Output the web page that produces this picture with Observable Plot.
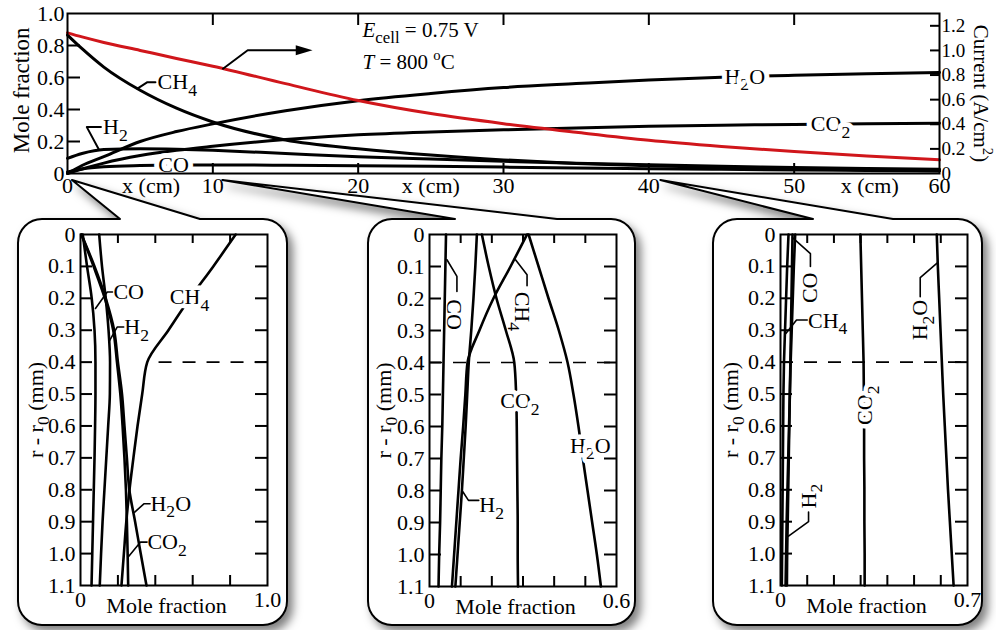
<!DOCTYPE html>
<html><head><meta charset="utf-8">
<script src="https://cdn.jsdelivr.net/npm/d3@7"></script>
<script src="https://cdn.jsdelivr.net/npm/@observablehq/plot@0.6"></script>
<style>
body{margin:0;background:#fff;}
#fig{position:relative;width:996px;height:630px;overflow:hidden;background:#fff;}
#fig svg{position:absolute;}
</style></head><body><div id="fig"></div>
<script>
// ---------------- DATA: main chart (x along channel, cm) ----------------
const xCm     = [0, 1, 2.5, 5, 7.5, 10, 15, 20, 25, 30, 35, 40, 45, 50, 55, 60];
const mainCH4 = [0.865,0.78,0.665,0.52,0.408,0.322,0.21,0.155,0.115,0.085,0.063,0.048,0.037,0.029,0.022,0.017];
const mainH2O = [0,0.05,0.105,0.2,0.262,0.31,0.392,0.455,0.5,0.537,0.562,0.585,0.602,0.614,0.623,0.632];
const mainCO2 = [0,0.028,0.065,0.112,0.145,0.17,0.212,0.242,0.26,0.273,0.285,0.295,0.302,0.307,0.311,0.314];
const mainH2  = [0.095,0.125,0.15,0.155,0.152,0.145,0.125,0.105,0.09,0.076,0.064,0.054,0.045,0.038,0.032,0.027];
const mainCO  = [0.01,0.028,0.042,0.05,0.053,0.053,0.052,0.049,0.045,0.04,0.035,0.03,0.026,0.022,0.019,0.016];
const current = [1.143,1.11,1.065,1.0,0.935,0.872,0.73,0.593,0.487,0.405,0.335,0.27,0.22,0.178,0.142,0.111]; // A/cm2

const xTickVals  = [0, 10, 20, 30, 40, 50, 60];
const xInnerTick = [10, 20, 30, 40, 50];
const mfTicks    = [0, 0.2, 0.4, 0.6, 0.8, 1.0];
const curTicks   = [0, 0.2, 0.4, 0.6, 0.8, 1.0, 1.2];
const CUR_MAX    = 1.3;
const xcmAt      = [5.75, 25, 55.2];

// ---------------- DATA: radial profiles (r - r0, mm) ----------------
const rInset = [0, 0.1, 0.2, 0.3, 0.4, 0.5, 0.6, 0.7, 0.8, 0.9, 1.0, 1.1];
const rTickLabels = [0, 0.1, 0.2, 0.3, 0.4, 0.5, 0.6, 0.7, 0.8, 0.9, 1.0, 1.1];
// x = 0 cm
const in1CH4 = [0.83,0.71,0.585,0.47,0.357,0.33,0.305,0.283,0.262,0.245,0.232,0.219];
const in1H2O = [0.005,0.075,0.135,0.18,0.2,0.222,0.235,0.248,0.261,0.292,0.322,0.353];
const in1CO2 = [0.005,0.07,0.13,0.175,0.195,0.213,0.225,0.235,0.243,0.248,0.252,0.255];
const in1H2  = [0.1,0.115,0.135,0.15,0.158,0.157,0.148,0.138,0.128,0.118,0.11,0.103];
const in1CO  = [0.012,0.035,0.06,0.075,0.08,0.08,0.078,0.075,0.071,0.067,0.063,0.059];
// x = 10 cm
const in2CH4 = [0.313,0.26,0.205,0.16,0.122,0.115,0.108,0.1,0.093,0.086,0.079,0.072];
const in2H2O = [0.318,0.35,0.382,0.415,0.443,0.462,0.478,0.492,0.507,0.522,0.537,0.55];
const in2CO2 = [0.168,0.19,0.215,0.245,0.272,0.278,0.28,0.281,0.282,0.283,0.283,0.284];
const in2H2  = [0.152,0.147,0.141,0.134,0.126,0.121,0.116,0.11,0.104,0.097,0.09,0.083];
const in2CO  = [0.053,0.051,0.049,0.047,0.045,0.043,0.041,0.038,0.036,0.034,0.031,0.029];
// x = 40 cm
const in3CH4 = [0.03,0.025,0.021,0.017,0.013,0.011,0.01,0.009,0.008,0.007,0.006,0.005];
const in3H2O = [0.585,0.589,0.594,0.599,0.604,0.609,0.615,0.621,0.627,0.634,0.641,0.648];
const in3CO2 = [0.299,0.302,0.305,0.308,0.311,0.312,0.313,0.313,0.314,0.314,0.315,0.315];
const in3H2  = [0.045,0.043,0.041,0.039,0.037,0.035,0.033,0.031,0.029,0.027,0.025,0.024];
const in3CO  = [0.055,0.05,0.046,0.042,0.038,0.035,0.032,0.029,0.026,0.023,0.021,0.019];

// ---------------- annotations (data units) ----------------
const topInline = [
  {t: "H_{2}O", x: 46.6, y: 0.606},
  {t: "CO_{2}", x: 52.5, y: 0.309},
  {t: "CO",     x: 7.3,  y: 0.053}
];
const topTags = [
  {t: "CH_{4}", x: 6.2, y: 0.571},
  {t: "H_{2}",  x: 2.45, y: 0.29}
];
const topNotes = [
  {t: "*E*_{cell} = 0.75 V", x: 20.3, y: 0.894},
  {t: "*T* = 800 ^{o}C",     x: 20.3, y: 0.694}
];
const topLeaders = [
  {id: "ch4", pts: [[4.81,0.53],[5.5,0.571],[6.05,0.571]]},
  {id: "h2",  pts: [[2.3,0.29],[1.33,0.29],[2.15,0.152]]},
  {id: "arr", pts: [[10.7,0.655],[12.4,0.77],[16.0,0.77]]}
];
const arrowHead = [{x: 16.2, y: 0.77}];

const inset1 = {
  box: {left: 18, top: 219, width: 269, height: 406}, m: [62, 20, 15, 40],
  xmax: 1.0, xticks: [0.2, 0.4, 0.6, 0.8], dashFrom: 0.42, titleDx: -45,
  series: {CH4: in1CH4, H2O: in1H2O, CO2: in1CO2, H2: in1H2, CO: in1CO},
  labels: [
    {t: "CO", x: 0.176, y: 0.18, a: "start"},
    {t: "CH_{4}", x: 0.583, y: 0.196, a: "middle", halo: true},
    {t: "H_{2}", x: 0.234, y: 0.29, a: "start"},
    {t: "H_{2}O", x: 0.374, y: 0.844, a: "start"},
    {t: "CO_{2}", x: 0.358, y: 0.964, a: "start"}
  ],
  leaders: [
    {id: "co", pts: [[0.08,0.232],[0.143,0.18],[0.171,0.18]]},
    {id: "h2", pts: [[0.151,0.337],[0.196,0.29],[0.231,0.29]]},
    {id: "h2o", pts: [[0.29,0.87],[0.339,0.844],[0.372,0.844]]},
    {id: "co2", pts: [[0.255,1.011],[0.321,0.964],[0.356,0.964]]}
  ],
  tip: {cm: 0, dx: 5, base: [120, 200]}
};
const inset2 = {
  box: {left: 368, top: 219, width: 267, height: 406}, m: [61, 19, 15, 39],
  xmax: 0.6, xticks: [0.1, 0.2, 0.3, 0.4, 0.5], dashFrom: 0, titleDx: -46,
  series: {CH4: in2CH4, H2O: in2H2O, CO2: in2CO2, H2: in2H2, CO: in2CO},
  labels: [
    {t: "CO", x: 0.078, y: 0.25, a: "middle", rot: 90},
    {t: "CH_{4}", x: 0.297, y: 0.24, a: "middle", rot: 90},
    {t: "CO_{2}", x: 0.29, y: 0.52, a: "middle", halo: true},
    {t: "H_{2}O", x: 0.516, y: 0.66, a: "middle", halo: true},
    {t: "H_{2}", x: 0.16, y: 0.846, a: "start"}
  ],
  leaders: [
    {id: "co", pts: [[0.056,0.079],[0.088,0.131],[0.088,0.178]]},
    {id: "ch4", pts: [[0.276,0.079],[0.313,0.126],[0.313,0.16]]},
    {id: "h2", pts: [[0.107,0.804],[0.125,0.831],[0.158,0.831]]}
  ],
  tip: {cm: 10, dx: 10, base: [455, 557]}
};
const inset3 = {
  box: {left: 713, top: 219, width: 269, height: 406}, m: [67, 15, 15, 40],
  xmax: 0.7, xticks: [0.1, 0.2, 0.3, 0.4, 0.5, 0.6], dashFrom: 0, titleDx: -50,
  series: {CH4: in3CH4, H2O: in3H2O, CO2: in3CO2, H2: in3H2, CO: in3CO},
  labels: [
    {t: "CO", x: 0.112, y: 0.167, a: "middle", rot: -90},
    {t: "CH_{4}", x: 0.103, y: 0.27, a: "start"},
    {t: "H_{2}O", x: 0.523, y: 0.268, a: "middle", rot: -90},
    {t: "CO_{2}", x: 0.316, y: 0.535, a: "middle", rot: -90, halo: true},
    {t: "H_{2}", x: 0.105, y: 0.82, a: "middle", rot: -90}
  ],
  leaders: [
    {id: "co", pts: [[0.045,0.01],[0.112,0.06],[0.112,0.1]]},
    {id: "ch4", pts: [[0.02,0.31],[0.06,0.268],[0.1,0.268]]},
    {id: "h2o", pts: [[0.586,0.09],[0.523,0.135],[0.523,0.195]]},
    {id: "h2", pts: [[0.105,0.87],[0.105,0.9],[0.03,0.945]]}
  ],
  tip: {cm: 40, dx: 12, base: [813, 893]}
};

// ---------------- helpers ----------------
const FONT = '"Liberation Serif", "Times New Roman", serif';
const baseStyle = {fontFamily: FONT, fontSize: "22px", background: "transparent", overflow: "visible", color: "black"};
const fmt1 = d => Math.abs(d) < 1e-9 ? "0" : d.toFixed(1);
const flatLeaders = L => L.flatMap(l => l.pts.map(([x, y]) => ({id: l.id, x, y})));
const triRight = {draw(ctx, size) { const r = Math.sqrt(size / Math.PI); ctx.moveTo(r * 1.2, 0); ctx.lineTo(-r * 0.9, -r * 0.62); ctx.lineTo(-r * 0.9, r * 0.62); ctx.closePath(); }};

function richify(root) {
  root.querySelectorAll("text").forEach(el => {
    if (el.children.length) return;
    const s = el.textContent;
    if (!/(_\{|\^\{|\*)/.test(s)) return;
    const fs = parseFloat(getComputedStyle(el).fontSize) || 22;
    el.textContent = "";
    const re = /_\{([^}]*)\}|\^\{([^}]*)\}|\*([^*]*)\*/g;
    let cur = 0, last = 0, m;
    const add = (txt, off, scale, italic) => {
      const t = document.createElementNS("http://www.w3.org/2000/svg", "tspan");
      const d = off * fs - cur;
      if (Math.abs(d) > 1e-6) t.setAttribute("dy", d.toFixed(2));
      cur = off * fs;
      if (scale !== 1) t.setAttribute("font-size", (fs * scale).toFixed(1));
      if (italic) t.setAttribute("font-style", "italic");
      t.textContent = txt;
      el.appendChild(t);
    };
    while ((m = re.exec(s))) {
      if (m.index > last) add(s.slice(last, m.index), 0, 1, false);
      if (m[1] !== undefined) add(m[1], 0.3, 0.8, false);
      else if (m[2] !== undefined) add(m[2], -0.42, 0.7, false);
      else add(m[3], 0, 1, true);
      last = re.lastIndex;
    }
    if (last < s.length) add(s.slice(last), 0, 1, false);
  });
}

// ---------------- main chart ----------------
const W = 996, TH = 200, TML = 67, TMR = 57, TMT = 13, TMB = 27;
const tfw = W - TML - TMR, tfh = TH - TMT - TMB;
const species = {CH4: mainCH4, H2O: mainH2O, CO2: mainCO2, H2: mainH2, CO: mainCO};
const topRows = Object.entries(species).flatMap(([s, arr]) => arr.map((v, i) => ({s, x: xCm[i], v})));
const curRows = current.map((c, i) => ({x: xCm[i], c}));

const topPlot = Plot.plot({
  width: W, height: TH, marginLeft: TML, marginRight: TMR, marginTop: TMT, marginBottom: TMB,
  style: baseStyle,
  x: {domain: [0, 60]}, y: {domain: [0, 1]},
  marks: [
    Plot.line(topRows, {x: "x", y: "v", z: "s", stroke: "black", strokeWidth: 3, curve: "monotone-x"}),
    Plot.line(curRows, {x: "x", y: d => d.c / CUR_MAX, stroke: "#d0161b", strokeWidth: 3, curve: "monotone-x"}),
    Plot.line(flatLeaders(topLeaders), {x: "x", y: "y", z: "id", stroke: "black", strokeWidth: 2}),
    Plot.dot(arrowHead, {x: "x", y: "y", symbol: triRight, r: 8, fill: "black", stroke: null}),
    Plot.text(topInline, {x: "x", y: "y", text: "t", textAnchor: "middle", fill: "black", stroke: "white", strokeWidth: 10, paintOrder: "stroke", fontSize: 22}),
    Plot.text(topTags, {x: "x", y: "y", text: "t", textAnchor: "start", fill: "black", fontSize: 22}),
    Plot.text(topNotes, {x: "x", y: "y", text: "t", textAnchor: "start", fill: "black", fontSize: 21}),
    Plot.tickX(xInnerTick, {x: d => d, insetTop: tfh - 10, strokeWidth: 2}),
    Plot.tickX(xInnerTick, {x: d => d, insetBottom: tfh - 12, strokeWidth: 2}),
    Plot.tickY(mfTicks.slice(1, -1), {y: d => d, insetRight: tfw - 13, strokeWidth: 2}),
    Plot.tickY(curTicks.slice(1), {y: d => d / CUR_MAX, insetLeft: tfw - 9, strokeWidth: 2}),
    Plot.frame({stroke: "black", strokeWidth: 2}),
    Plot.axisX(xTickVals, {anchor: "bottom", tickSize: 0, tickPadding: 4, label: null}),
    Plot.axisY(mfTicks, {anchor: "left", tickSize: 0, tickPadding: 3, tickFormat: fmt1, label: null}),
    Plot.axisY(curTicks.map(v => v / CUR_MAX), {anchor: "right", tickSize: 0, tickPadding: 2, fontSize: 19, tickFormat: d => fmt1(d * CUR_MAX), label: null}),
    Plot.text(xcmAt, {x: d => d, frameAnchor: "bottom", lineAnchor: "top", textAnchor: "middle", dy: 4, text: () => "x (cm)"}),
    Plot.text(["Mole fraction"], {frameAnchor: "left", textAnchor: "middle", y: () => 0.52, text: d => d, rotate: -90, dx: -46, fontSize: 23}),
    Plot.text(["Current (A/cm^{2})"], {frameAnchor: "right", textAnchor: "middle", y: () => 0.5, text: d => d, rotate: 90, dx: 41, fontSize: 21})
  ]
});

// ---------------- insets ----------------
function makeInset(cfg) {
  const {width, height} = cfg.box;
  const [ml, mr, mt, mb] = cfg.m;
  const fw = width - ml - mr, fh = height - mt - mb;
  const rows = Object.entries(cfg.series).flatMap(([s, arr]) => arr.map((v, i) => ({s, r: rInset[i], v})));
  const rInner = rTickLabels.slice(1, -1);
  const labelMarks = [];
  for (const a of ["start", "middle"]) for (const h of [false, true]) {
    const sel = cfg.labels.filter(d => d.a === a && !!d.halo === h);
    if (!sel.length) continue;
    labelMarks.push(Plot.text(sel, {x: "x", y: "y", text: "t", textAnchor: a, rotate: d => d.rot || 0, fill: "black", fontSize: 22,
      ...(h ? {stroke: "white", strokeWidth: 9, paintOrder: "stroke"} : {})}));
  }
  return Plot.plot({
    width, height, marginLeft: ml, marginRight: mr, marginTop: mt, marginBottom: mb,
    style: baseStyle,
    x: {domain: [0, cfg.xmax]}, y: {domain: [0, 1.1], reverse: true},
    marks: [
      Plot.ruleY([0.4], {x1: cfg.dashFrom, x2: cfg.xmax, stroke: "black", strokeWidth: 1.6, strokeDasharray: "13,11"}),
      Plot.line(rows, {x: "v", y: "r", z: "s", stroke: "black", strokeWidth: 2.6, curve: "monotone-y"}),
      Plot.line(flatLeaders(cfg.leaders), {x: "x", y: "y", z: "id", stroke: "black", strokeWidth: 1.6}),
      ...labelMarks,
      Plot.tickX(cfg.xticks, {x: d => d, insetTop: fh - 10, strokeWidth: 2}),
      Plot.tickX(cfg.xticks, {x: d => d, insetBottom: fh - 9, strokeWidth: 2}),
      Plot.tickY(rInner, {y: d => d, insetRight: fw - 12, strokeWidth: 2}),
      Plot.tickY(rInner, {y: d => d, insetLeft: fw - 12, strokeWidth: 2}),
      Plot.frame({stroke: "black", strokeWidth: 2}),
      Plot.axisY(rTickLabels, {anchor: "left", tickSize: 0, tickPadding: 5, tickFormat: fmt1, label: null}),
      Plot.axisX([0, cfg.xmax], {anchor: "bottom", tickSize: 0, tickPadding: 6, tickFormat: fmt1, label: null}),
      Plot.text(["Mole fraction"], {frameAnchor: "bottom", textAnchor: "middle", x: () => cfg.xmax * 0.46, text: d => d, dy: 27}),
      Plot.text(["r - r_{0} (mm)"], {frameAnchor: "left", textAnchor: "middle", y: () => 0.55, text: d => d, rotate: -90, dx: cfg.titleDx})
    ]
  });
}

// ---------------- assemble ----------------
const fig = document.getElementById("fig");
const xs = topPlot.scale("x");
const bub = d3.create("svg").attr("width", W).attr("height", 630).style("left", "0px").style("top", "0px");
bub.append("defs").append("filter").attr("id", "sh").attr("x", "-10%").attr("y", "-10%").attr("width", "130%").attr("height", "130%")
  .call(f => f.append("feDropShadow").attr("dx", 5).attr("dy", 6).attr("stdDeviation", 5).attr("flood-color", "#000").attr("flood-opacity", 0.5));
function bubblePath(x0, y0, x1, y1, r, b0, b1, tx, ty) {
  return `M${x0 + r},${y0} L${b0},${y0} L${tx},${ty} L${b1},${y0} L${x1 - r},${y0} A${r},${r} 0 0 1 ${x1},${y0 + r} L${x1},${y1 - r} A${r},${r} 0 0 1 ${x1 - r},${y1} L${x0 + r},${y1} A${r},${r} 0 0 1 ${x0},${y1 - r} L${x0},${y0 + r} A${r},${r} 0 0 1 ${x0 + r},${y0} Z`;
}
const insets = [inset1, inset2, inset3];
for (const cfg of insets) {
  const b = cfg.box;
  const tx = xs.apply(cfg.tip.cm) + cfg.tip.dx, ty = TMT + tfh + 7;
  bub.append("path").attr("d", bubblePath(b.left, b.top, b.left + b.width, b.top + b.height, 24, cfg.tip.base[0], cfg.tip.base[1], tx, ty))
    .attr("fill", "white").attr("stroke", "black").attr("stroke-width", 2).attr("stroke-linejoin", "round").attr("filter", "url(#sh)");
}
fig.appendChild(bub.node());
topPlot.style.left = "0px"; topPlot.style.top = "0px";
fig.appendChild(topPlot);
for (const cfg of insets) {
  const p = makeInset(cfg);
  p.style.left = cfg.box.left + "px"; p.style.top = cfg.box.top + "px";
  fig.appendChild(p);
}
richify(fig);
</script></body></html>
